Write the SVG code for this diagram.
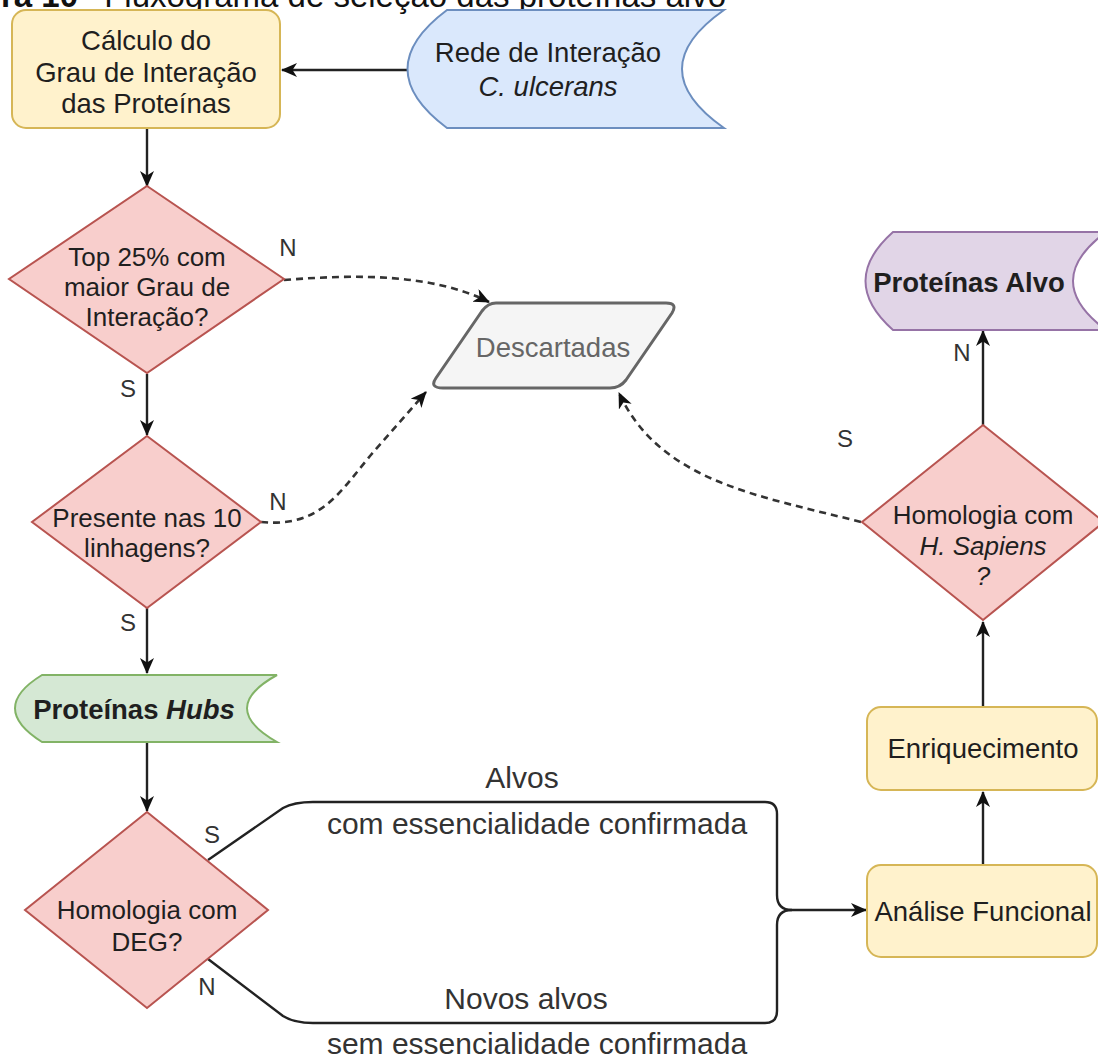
<svg xmlns="http://www.w3.org/2000/svg" width="1098" height="1059" viewBox="0 0 1098 1059">
  <style>
    text { font-family: "Liberation Sans", Arial, sans-serif; fill: #1f1f1f; text-anchor: middle; }
    .t26 { font-size: 27.5px; }
    .t25 { font-size: 26px; }
    .lab { font-size: 24px; fill: #333; }
    .edge { font-size: 30px; fill: #333; }
    .bold { font-weight: bold; }
    .it { font-style: italic; }
    .proc { fill: #fff2cc; stroke: #d6b656; stroke-width: 2; }
    .dec { fill: #f8cecc; stroke: #b85450; stroke-width: 2; }
    .line { fill: none; stroke: #222; stroke-width: 2.4; }
    .dash { fill: none; stroke: #333; stroke-width: 2.6; stroke-dasharray: 7 5; }
  </style>
  <defs>
    <marker id="arrow" viewBox="0 0 16 14" refX="15" refY="7" markerWidth="16" markerHeight="14" markerUnits="userSpaceOnUse" orient="auto">
      <path d="M0,0 L16,7 L0,14 L4.5,7 Z" fill="#111"/>
    </marker>
  </defs>

  <rect width="1098" height="1059" fill="#ffffff"/>

  <!-- caption line, partly outside the top edge -->
  <text x="78" y="7" style="font-size:33px;text-anchor:end;font-weight:bold;fill:#111">Figura 10</text>
  <text x="84" y="7" style="font-size:33px;text-anchor:start;fill:#111">- Fluxograma de seleção das proteínas alvo</text>

  <!-- connectors -->
  <g id="connectors">
    <path class="line" d="M 408 70 L 282 70" marker-end="url(#arrow)"/>
    <path class="line" d="M 147 128 L 147 186" marker-end="url(#arrow)"/>
    <path class="line" d="M 147 374 L 147 435" marker-end="url(#arrow)"/>
    <path class="dash" d="M 284 280 C 360 274, 432 274, 489 302" marker-end="url(#arrow)"/>
    <path class="line" d="M 147 608 L 147 673" marker-end="url(#arrow)"/>
    <path class="dash" d="M 261 522 C 320 528, 340 492, 370 456 L 426 392" marker-end="url(#arrow)"/>
    <path class="line" d="M 147 742 L 147 811" marker-end="url(#arrow)"/>
    <path class="line" d="M 208 860 L 283 808 Q 294 802, 313 802 L 765 802 Q 777 802, 777 814 L 777 895 Q 777 910, 792 910 L 866 910" marker-end="url(#arrow)"/>
    <path class="line" d="M 208 959 L 283 1016 Q 294 1023, 313 1023 L 765 1023 Q 777 1023, 777 1011 L 777 925 Q 777 910, 792 910"/>
    <path class="line" d="M 983 865 L 983 792" marker-end="url(#arrow)"/>
    <path class="line" d="M 983 707 L 983 622" marker-end="url(#arrow)"/>
    <path class="line" d="M 983 425 L 983 331" marker-end="url(#arrow)"/>
    <path class="dash" d="M 861 522 C 760 496, 660 482, 619 393" marker-end="url(#arrow)"/>

    <text class="lab" x="288" y="256">N</text>
    <text class="lab" x="128" y="397">S</text>
    <text class="lab" x="278" y="510">N</text>
    <text class="lab" x="128" y="631">S</text>
    <text class="lab" x="212" y="843">S</text>
    <text class="lab" x="207" y="995">N</text>
    <text class="lab" x="962" y="361">N</text>
    <text class="lab" x="845" y="447">S</text>

    <text class="edge" x="522" y="788">Alvos</text>
    <text class="edge" x="537" y="834">com essencialidade confirmada</text>
    <text class="edge" x="526" y="1009">Novos alvos</text>
    <text class="edge" x="537" y="1054">sem essencialidade confirmada</text>
  </g>

  <g id="calculo-grau">
    <rect class="proc" x="12" y="10" width="268" height="118" rx="14"/>
    <text class="t26" x="146" y="50">Cálculo do</text>
    <text class="t26" x="146" y="82">Grau de Interação</text>
    <text class="t26" x="146" y="113">das Proteínas</text>
  </g>

  <g id="rede-interacao">
    <path d="M 447 10 L 724 10 Q 640 69, 724 128 L 447 128 Q 368 69, 447 10 Z" fill="#dae8fc" stroke="#6c8ebf" stroke-width="2"/>
    <text class="t26" x="548" y="62">Rede de Interação</text>
    <text class="t26 it" x="548" y="96">C. ulcerans</text>
  </g>

  <g id="top25">
    <polygon class="dec" points="147,186 284,279 147,373 9,279"/>
    <text class="t25" x="147" y="266">Top 25% com</text>
    <text class="t25" x="147" y="296">maior Grau de</text>
    <text class="t25" x="147" y="326">Interação?</text>
  </g>

  <g id="descartadas">
    <path d="M 496 303 L 666 303 Q 678 303, 672 313 L 626 380 Q 620 388, 610 388 L 443 388 Q 429 388, 436 378 L 482 311 Q 488 303, 496 303 Z" fill="#f5f5f5" stroke="#666666" stroke-width="3"/>
    <text class="t26" x="553" y="357" style="fill:#666">Descartadas</text>
  </g>

  <g id="presente-linhagens">
    <polygon class="dec" points="147,436 261,522 147,608 32,522"/>
    <text class="t25" x="147" y="527">Presente nas 10</text>
    <text class="t25" x="147" y="557">linhagens?</text>
  </g>

  <g id="proteinas-hubs">
    <path d="M 42 675 L 277 675 Q 217 708, 277 742 L 42 742 Q -12 708, 42 675 Z" fill="#d5e8d4" stroke="#82b366" stroke-width="2"/>
    <text class="t26 bold" x="134" y="719">Proteínas <tspan class="it">Hubs</tspan></text>
  </g>

  <g id="homologia-deg">
    <polygon class="dec" points="147,812 268,910 147,1008 25,910"/>
    <text class="t25" x="147" y="919">Homologia com</text>
    <text class="t25" x="147" y="951">DEG?</text>
  </g>

  <g id="analise-funcional">
    <rect class="proc" x="867" y="865" width="230" height="92" rx="14"/>
    <text class="t26" x="983" y="921">Análise Funcional</text>
  </g>

  <g id="enriquecimento">
    <rect class="proc" x="867" y="707" width="230" height="83" rx="14"/>
    <text class="t26" x="983" y="758">Enriquecimento</text>
  </g>

  <g id="homologia-hsapiens">
    <polygon class="dec" points="983,425 1104,522 983,620 862,522"/>
    <text class="t25" x="983" y="524">Homologia com</text>
    <text class="t25 it" x="983" y="555">H. Sapiens</text>
    <text class="t25 it" x="983" y="585">?</text>
  </g>

  <g id="proteinas-alvo">
    <path d="M 893 232 L 1106 232 Q 1040 281, 1106 330 L 893 330 Q 838 281, 893 232 Z" fill="#e1d5e7" stroke="#9673a6" stroke-width="2"/>
    <text class="t26 bold" x="969" y="292">Proteínas Alvo</text>
  </g>
</svg>
